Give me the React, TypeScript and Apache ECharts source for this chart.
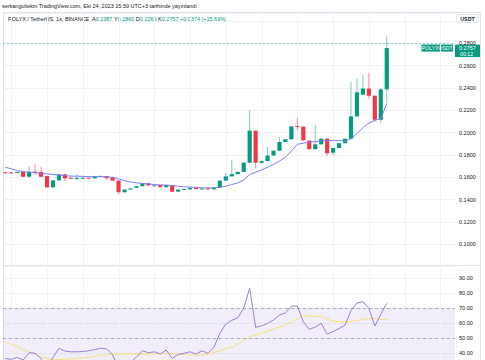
import React, { useEffect, useRef } from "react";
import * as echarts from "echarts";

// ---- data ----
const opens = [
  0.1645, 0.1643, 0.164, 0.165, 0.1605, 0.165, 0.1647, 0.1611, 0.151, 0.1572,
  0.1626, 0.1596, 0.159, 0.1589, 0.1596, 0.159, 0.1608, 0.1611, 0.16, 0.157,
  0.1466, 0.149, 0.1506, 0.152, 0.1546, 0.1522, 0.153, 0.1511, 0.153, 0.1471,
  0.149, 0.1492, 0.1506, 0.1494, 0.1501, 0.1492, 0.1506, 0.157, 0.1608, 0.1628,
  0.1648, 0.173, 0.2017, 0.173, 0.1745, 0.1795, 0.1838, 0.1916, 0.194, 0.2058,
  0.2053, 0.1928, 0.1852, 0.1895, 0.1945, 0.182, 0.1862, 0.1905, 0.1945, 0.2145,
  0.234, 0.2395, 0.233, 0.2115, 0.2387,
];
const closes = [
  0.1641, 0.164, 0.1648, 0.1605, 0.165, 0.1638, 0.1605, 0.151, 0.1572, 0.1626,
  0.159, 0.1588, 0.1593, 0.1596, 0.159, 0.161, 0.1612, 0.1591, 0.157, 0.1466,
  0.149, 0.15, 0.152, 0.1546, 0.1527, 0.1528, 0.1511, 0.153, 0.1471, 0.149,
  0.1495, 0.1506, 0.1494, 0.15, 0.1492, 0.1506, 0.157, 0.1608, 0.1628, 0.1648,
  0.173, 0.2017, 0.173, 0.1745, 0.1795, 0.1838, 0.1916, 0.194, 0.2055, 0.2053,
  0.1932, 0.1852, 0.1895, 0.1945, 0.1815, 0.1862, 0.1905, 0.1945, 0.2145, 0.236,
  0.2395, 0.233, 0.2115, 0.2387, 0.2757,
];
const lows = [
  0.1636, 0.1636, 0.1637, 0.16, 0.1596, 0.162, 0.16, 0.1505, 0.1506, 0.157,
  0.1566, 0.1585, 0.158, 0.1586, 0.1588, 0.1588, 0.1606, 0.1575, 0.1567, 0.1447,
  0.1462, 0.1488, 0.1504, 0.1518, 0.1522, 0.152, 0.1508, 0.1509, 0.1466, 0.1469,
  0.1488, 0.149, 0.149, 0.1492, 0.1488, 0.149, 0.1504, 0.1566, 0.1605, 0.1625,
  0.1645, 0.1725, 0.168, 0.1722, 0.174, 0.179, 0.1835, 0.1912, 0.1936, 0.2023,
  0.1928, 0.1848, 0.1848, 0.1892, 0.179, 0.1795, 0.1858, 0.1902, 0.194, 0.214,
  0.2335, 0.23, 0.2095, 0.2088, 0.2269,
];
const highs = [
  0.165, 0.1648, 0.1652, 0.1655, 0.17, 0.1718, 0.1694, 0.1615, 0.1575, 0.163,
  0.163, 0.16, 0.1626, 0.16, 0.1598, 0.1614, 0.1615, 0.1613, 0.1602, 0.1572,
  0.1492, 0.1503, 0.1522, 0.1548, 0.1548, 0.153, 0.1532, 0.1532, 0.1532, 0.1492,
  0.1497, 0.1508, 0.1508, 0.1503, 0.1503, 0.1508, 0.1572, 0.164, 0.1755, 0.165,
  0.1735, 0.2202, 0.202, 0.175, 0.187, 0.1842, 0.196, 0.1945, 0.206, 0.2128,
  0.2058, 0.1932, 0.207, 0.195, 0.195, 0.1866, 0.1908, 0.1948, 0.2455, 0.2485,
  0.2515, 0.2535, 0.2335, 0.24, 0.286,
];
const maValues = [
  0.169, 0.1675, 0.166, 0.165, 0.1645, 0.164, 0.1635, 0.163, 0.1625, 0.162,
  0.1615, 0.161, 0.161, 0.1608, 0.1606, 0.1606, 0.1606, 0.1603, 0.16, 0.1585,
  0.157, 0.1558, 0.155, 0.1545, 0.154, 0.1535, 0.1532, 0.153, 0.1525, 0.152,
  0.1515, 0.1512, 0.151, 0.1505, 0.1505, 0.1505, 0.151, 0.152, 0.1535, 0.155,
  0.1575, 0.1625, 0.1645, 0.1665, 0.169, 0.1715, 0.1745, 0.178, 0.1835, 0.1895,
  0.1905, 0.1915, 0.192, 0.1925, 0.1928, 0.193, 0.1928, 0.1925, 0.1945, 0.199,
  0.2045, 0.2085, 0.211, 0.2125, 0.226,
];
const rsiValues = [
  36.5, 36, 37.3, 35.5, 40.4, 40, 36.5, 30, 37.3, 43.3,
  41.5, 41, 41, 41.2, 41.7, 42.5, 43.3, 43, 39, 30,
  32, 34, 37.5, 41.7, 40.4, 41, 39.5, 42.2, 36.6, 39.2,
  40, 41, 39.5, 41.7, 40, 44, 53.3, 59.5, 62, 63.7,
  70, 83.3, 57.3, 58.3, 60, 62.2, 65.5, 67, 71.5, 71.5,
  61, 56, 57.5, 60, 52.8, 54.5, 56.5, 58.8, 68.5, 73.5,
  74.4, 70, 58.2, 66, 73.3,
];
const rsiMaValues = [
  47.5, 46, 44.5, 42.5, 41, 39.5, 37.5, 36.5, 36, 36,
  36, 36.2, 36.5, 37, 37.3, 38, 38.5, 39, 39.5, 39.5,
  39.5, 39.5, 39.5, 39.5, 39.5, 39.7, 39.8, 40, 39.8, 39.5,
  39.2, 39, 38.8, 39, 39.5, 40.5, 41.5, 43, 44, 46,
  48.5, 51, 52, 53.5, 54.4, 56, 57.5, 58.8, 61, 63,
  65, 64.8, 64.6, 64.4, 63, 61.5, 61, 61, 61.2, 61.8,
  62.6, 63.2, 63.2, 62.5, 62.6,
];
const verticalGridAt = [1, 7, 13, 19, 25, 31, 37, 43, 49, 55, 61, 67, 73];
const rsiBand = [30, 70];
const rsiDashed = [70, 50];
const headerLine1 = "serkangultekin TradingView.com, Eki 24, 2023 15:59 UTC+3 tarihinde yayınlandı";
const symbolText = "POLYX / TetherUS, 1s, BINANCE";
const ohlcKeys = ["A", "Y", "D", "K"];
const ohlcValues = ["0.2387", "0.2860", "0.2269", "0.2757"];
const changeText = "+0.0374 (+15.69%)";
const symbolTag = "POLYXUSDT";
const countdown = "00:12";
const currency = "USDT";

const UP = "#089981";
const DOWN = "#F23645";
const DARK = "#131722";
const FONT = "'Liberation Sans', Arial, sans-serif";

export default function App() {
  const ref = useRef<HTMLDivElement>(null);
  useEffect(() => {
    const chart = echarts.init(ref.current!, null, { renderer: "svg" });
    const candleData = opens.map((o, i) => [i, o, closes[i], lows[i], highs[i]]);
    const xMin = -0.386;
    const xMax = 75.45;
    const last = closes[closes.length - 1];
    const gridSeries = (xi: number) => ({
      type: "custom",
      xAxisIndex: xi,
      yAxisIndex: xi,
      z: 1,
      silent: true,
      data: verticalGridAt.map((v) => [v]),
      encode: { x: 0 },
      renderItem: (params: any, api: any) => {
        const cs = params.coordSys;
        const p = api.coord([api.value(0), xi === 0 ? 0.2 : 50]);
        const x = Math.round(p[0]) + 0.5;
        return {
          type: "line",
          shape: { x1: x, y1: cs.y, x2: x, y2: cs.y + cs.height },
          style: { stroke: "#f0f3fa", lineWidth: 1 },
        };
      },
    });

    const option: any = {
      animation: false,
      backgroundColor: "#ffffff",
      textStyle: { fontFamily: FONT },
      grid: [
        { left: 3, right: 30, top: 13, height: 253.6 },
        { left: 3, right: 30, top: 265, height: 103.3 },
      ],
      xAxis: [
        { type: "value", gridIndex: 0, min: xMin, max: xMax, show: false },
        { type: "value", gridIndex: 1, min: xMin, max: xMax, show: false },
      ],
      yAxis: [
        {
          type: "value",
          gridIndex: 0,
          position: "right",
          min: 0.08,
          max: 0.3071,
          interval: 0.02,
          axisLine: { show: false },
          axisTick: { show: false },
          splitLine: { lineStyle: { color: "#f0f3fa", width: 1 } },
          axisLabel: {
            fontSize: 5.5,
            color: DARK,
            margin: 4,
            fontFamily: FONT,
            formatter: (v: number) => (v > 0.099 && v < 0.281 ? v.toFixed(4) : ""),
          },
        },
        {
          type: "value",
          gridIndex: 1,
          position: "right",
          min: 30,
          max: 98.87,
          interval: 10,
          axisLine: { show: false },
          axisTick: { show: false },
          splitLine: { lineStyle: { color: "#f0f3fa", width: 1 } },
          axisLabel: {
            fontSize: 5.5,
            color: DARK,
            margin: 4,
            fontFamily: FONT,
            formatter: (v: number) =>
              v >= 39.9 && v <= 90.1 && Math.abs(v - Math.round(v / 10) * 10) < 0.01 ? v.toFixed(2) : "",
          },
        },
      ],
      series: [
        gridSeries(0),
        gridSeries(1),
        {
          type: "custom",
          xAxisIndex: 0,
          yAxisIndex: 0,
          z: 3,
          data: candleData,
          encode: { x: 0, y: [1, 2, 3, 4] },
          renderItem: (params: any, api: any) => {
            const x = api.value(0);
            const o = api.value(1);
            const c = api.value(2);
            const l = api.value(3);
            const h = api.value(4);
            const pO = api.coord([x, o]);
            const pC = api.coord([x, c]);
            const pL = api.coord([x, l]);
            const pH = api.coord([x, h]);
            const w = api.size([1, 0])[0] * 0.7;
            const up = c >= o;
            const color = up ? UP : DOWN;
            const wick = up ? "rgba(8,153,129,0.5)" : "rgba(242,54,69,0.55)";
            const top = Math.min(pO[1], pC[1]);
            const hgt = Math.max(Math.abs(pO[1] - pC[1]), 1);
            const cx = pO[0];
            return {
              type: "group",
              children: [
                {
                  type: "line",
                  shape: { x1: cx, y1: pH[1], x2: cx, y2: pL[1] },
                  style: { stroke: wick, lineWidth: 1 },
                },
                {
                  type: "rect",
                  shape: { x: cx - w / 2, y: top, width: w, height: hgt },
                  style: { fill: color },
                },
              ],
            };
          },
        },
        {
          type: "line",
          xAxisIndex: 0,
          yAxisIndex: 0,
          z: 4,
          data: maValues.map((v, i) => [i, v]),
          showSymbol: false,
          symbol: "none",
          lineStyle: { color: "#7f7ff5", width: 1 },
          markLine: {
            silent: true,
            symbol: "none",
            label: { show: false },
            lineStyle: { color: "rgba(8,153,129,0.4)", type: [2, 2], width: 1, opacity: 1 },
            data: [{ yAxis: last }],
          },
        },
        {
          type: "line",
          xAxisIndex: 1,
          yAxisIndex: 1,
          z: 4,
          data: rsiValues.map((v, i) => [i, v]),
          showSymbol: false,
          symbol: "none",
          lineStyle: { color: "#9b7fd4", width: 1 },
          markArea: {
            silent: true,
            itemStyle: { color: "rgba(126,87,194,0.1)" },
            data: [[{ yAxis: rsiBand[0] }, { yAxis: rsiBand[1] }]],
          },
          markLine: {
            silent: true,
            symbol: "none",
            label: { show: false },
            lineStyle: { color: "rgba(120,123,134,0.55)", type: [3, 3], width: 1 },
            data: rsiDashed.map((v) => ({ yAxis: v })),
          },
        },
        {
          type: "line",
          xAxisIndex: 1,
          yAxisIndex: 1,
          z: 3,
          data: rsiMaValues.map((v, i) => [i, v]),
          showSymbol: false,
          symbol: "none",
          lineStyle: { color: "#f7e07a", width: 1 },
        },
      ],
    };
    chart.setOption(option);

    const measure = (text: string, size: number) =>
      new (echarts.graphic as any).Text({ style: { text, fontSize: size, fontFamily: FONT } }).getBoundingRect().width;

    const py = chart.convertToPixel({ yAxisIndex: 0 } as any, last) as number;
    const frame = "#e0e3eb";
    const txt = (x: number, y: number, text: string, fill: string, size: number, extra: any = {}) => ({
      type: "text",
      x,
      y,
      style: { text, fontSize: size, fontFamily: FONT, fill, align: "left", verticalAlign: "middle", ...extra },
    });

    // legend line: lay pieces out one after the other, scaled to the reference width
    const pieces: { t: string; c: string; gap: boolean }[] = [{ t: symbolText, c: DARK, gap: false }];
    ohlcKeys.forEach((k, i) => {
      pieces.push({ t: k, c: DARK, gap: true });
      pieces.push({ t: ohlcValues[i], c: UP, gap: false });
    });
    pieces.push({ t: changeText, c: UP, gap: true });
    const f0 = 10;
    const sp0 = measure("\u00a0", f0) || f0 * 0.28;
    let total0 = 0;
    pieces.forEach((p) => {
      total0 += (p.gap ? sp0 : 0) + measure(p.t, f0);
    });
    total0 += sp0 * 0.6;
    const legendWidth = 219;
    const fs = Math.max(4.5, Math.min(7.5, (f0 * legendWidth) / total0));
    const k = fs / f0;
    const legendPieces: any[] = [];
    let cx = 8;
    pieces.forEach((p, i) => {
      if (p.gap) cx += sp0 * k * (i === 1 ? 1.6 : 1);
      legendPieces.push(txt(cx, 18.5, p.t, p.c, fs));
      cx += measure(p.t, f0) * k;
    });
    const headerWidth = 205;
    const fh = Math.max(4.5, Math.min(fs, (f0 * headerWidth) / measure(headerLine1, f0)));

    chart.setOption({
      graphic: [
        txt(2, 6, headerLine1, DARK, fh),
        { type: "line", shape: { x1: 3, y1: 12.5, x2: 480.5, y2: 12.5 }, style: { stroke: frame, lineWidth: 1 } },
        { type: "line", shape: { x1: 3.5, y1: 12.5, x2: 3.5, y2: 360 }, style: { stroke: frame, lineWidth: 1 } },
        { type: "line", shape: { x1: 480.5, y1: 12.5, x2: 480.5, y2: 360 }, style: { stroke: frame, lineWidth: 1 } },
        { type: "line", shape: { x1: 3, y1: 265.5, x2: 480.5, y2: 265.5 }, style: { stroke: frame, lineWidth: 1 } },
        ...legendPieces,
        {
          type: "rect",
          shape: { x: 456.5, y: 14.5, width: 22, height: 8, r: 2 },
          style: { fill: "#ffffff", stroke: frame, lineWidth: 1 },
        },
        txt(467.5, 18.7, currency, DARK, 5.3, { align: "center", fontWeight: "bold" }),
        {
          type: "rect",
          shape: { x: 421.5, y: py - 3.5, width: 31.5, height: 7 },
          style: { fill: UP },
        },
        txt(437.2, py, symbolTag, "#ffffff", 5.2, { align: "center" }),
        {
          type: "rect",
          shape: { x: 455, y: py - 3.5, width: 25, height: 12.5 },
          style: { fill: UP },
        },
        txt(459, py + 0.3, last.toFixed(4), "#ffffff", 5.5),
        txt(460, py + 5.6, countdown, "#ffffff", 5.3),
      ],
    });
    return () => chart.dispose();
  }, []);
  return (
    <div style={{ position: "fixed", left: 0, top: 0, width: 485, height: 360, overflow: "hidden", background: "#ffffff" }}>
      <div ref={ref} style={{ width: 485, height: 380 }} />
    </div>
  );
}
